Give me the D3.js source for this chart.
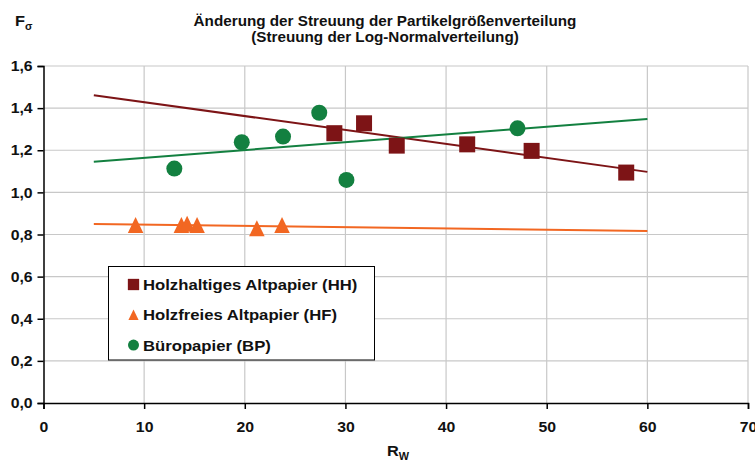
<!DOCTYPE html>
<html>
<head>
<meta charset="utf-8">
<script src="https://cdn.jsdelivr.net/npm/d3@7"></script>
<style>
  html, body { margin: 0; padding: 0; background: #fff; }
  svg { display: block; font-family: "Liberation Sans", Arial, sans-serif; }
</style>
</head>
<body>
<svg id="chart" width="755" height="462"></svg>
<script>
// Holzhaltiges Altpapier (HH)
const hhX = [28.9, 31.85, 35.1, 42.1, 48.5, 57.9];
const hhY = [1.281, 1.328, 1.222, 1.228, 1.197, 1.094];
// Holzfreies Altpapier (HF)
const hfX = [9.15, 13.7, 14.27, 15.26, 21.2, 23.7];
const hfY = [0.845, 0.845, 0.851, 0.845, 0.830, 0.845];
// Büropapier (BP)
const bpX = [13.0, 19.7, 23.8, 27.4, 30.1, 47.1];
const bpY = [1.113, 1.238, 1.265, 1.378, 1.059, 1.304];

const seriesNames = ["Holzhaltiges Altpapier (HH)", "Holzfreies Altpapier (HF)", "Büropapier (BP)"];
const seriesColors = ["#7d1416", "#f26722", "#138040"];
const trendRange = [5, 60];

const xTicks = [0, 10, 20, 30, 40, 50, 60, 70];
const yTicks = [0, 0.2, 0.4, 0.6, 0.8, 1.0, 1.2, 1.4, 1.6];

const titleLines = ["Änderung der Streuung der Partikelgrößenverteilung", "(Streuung der Log-Normalverteilung)"];

const svg = d3.select("#chart");
const plotL = 43.5, plotR = 748, plotT = 66, plotB = 403;
const stretch = 1.09; // text is set slightly wide

const x = d3.scaleLinear().domain([0, 70]).range([plotL, plotR]);
const y = d3.scaleLinear().domain([0, 1.6]).range([plotB, plotT]);

// grid
const grid = svg.append("g");
grid.selectAll("line.h").data(yTicks.slice(1)).join("line")
  .attr("x1", plotL).attr("x2", plotR)
  .attr("y1", d => y(d)).attr("y2", d => y(d))
  .attr("stroke", "#c8c8c8").attr("stroke-width", 1.2);
grid.selectAll("line.v").data(xTicks.slice(1)).join("line")
  .attr("y1", plotT).attr("y2", plotB)
  .attr("x1", d => x(d)).attr("x2", d => x(d))
  .attr("stroke", "#c8c8c8").attr("stroke-width", 1.2);

// axes
const fmt = d => d3.format(".1f")(d).replace(".", ",");
const yAxis = svg.append("g").attr("transform", `translate(${plotL},0)`)
  .call(d3.axisLeft(y).tickValues(yTicks).tickFormat(fmt).tickSize(6).tickPadding(4));
const xAxis = svg.append("g").attr("transform", `translate(0,${plotB})`)
  .call(d3.axisBottom(x).tickValues(xTicks).tickFormat(d3.format("d")).tickSize(6).tickPadding(13));
[xAxis, yAxis].forEach(a => {
  a.select(".domain").attr("stroke", "#000").attr("stroke-width", 1.5);
  a.selectAll(".tick line").attr("stroke", "#000").attr("stroke-width", 1.5);
  a.selectAll(".tick text").attr("fill", "#111").attr("font-size", 14.5).attr("font-weight", "bold")
    .attr("font-family", "'Liberation Sans', Arial, sans-serif")
    .attr("transform", `scale(${stretch},1)`);
});

// trend lines (least squares over each series)
function fit(xs, ys) {
  const mx = d3.mean(xs), my = d3.mean(ys);
  const sxy = d3.sum(xs, (v, i) => (v - mx) * (ys[i] - my));
  const sxx = d3.sum(xs, v => (v - mx) * (v - mx));
  const b = sxy / sxx;
  return v => my + b * (v - mx);
}

// upright triangle whose bounding box is centred on the point
const boxTriangle = {
  draw(ctx, size) {
    const s = Math.sqrt(size);
    const w = s * 0.97, h = s;
    ctx.moveTo(0, -h / 2);
    ctx.lineTo(w / 2, h / 2);
    ctx.lineTo(-w / 2, h / 2);
    ctx.closePath();
  }
};

const series = [
  { xs: hhX, ys: hhY, shape: d3.symbolSquare, size: 256, legendSize: 128 },
  { xs: hfX, ys: hfY, shape: boxTriangle, size: 256, legendSize: 110 },
  { xs: bpX, ys: bpY, shape: d3.symbolCircle, size: 201, legendSize: 95 }
];
const line = d3.line().x(d => x(d[0])).y(d => y(d[1]));
series.forEach((s, i) => {
  const f = fit(s.xs, s.ys);
  svg.append("path")
    .attr("d", line(trendRange.map(v => [v, f(v)])))
    .attr("stroke", seriesColors[i]).attr("stroke-width", 2).attr("fill", "none");
});

// markers
series.forEach((s, i) => {
  svg.append("g").selectAll("path").data(s.xs.map((v, k) => [v, s.ys[k]])).join("path")
    .attr("d", d3.symbol().type(s.shape).size(s.size))
    .attr("transform", d => `translate(${x(d[0])},${y(d[1])})`)
    .attr("fill", seriesColors[i]);
});

// legend
const lg = svg.append("g");
lg.append("rect").attr("x", 108.5).attr("y", 266.5).attr("width", 266).attr("height", 93.5)
  .attr("fill", "#fff").attr("stroke", "#000").attr("stroke-width", 1);
seriesNames.forEach((name, i) => {
  const cy = 284.5 + i * 30.3;
  lg.append("path").attr("d", d3.symbol().type(series[i].shape).size(series[i].legendSize))
    .attr("transform", `translate(133.5,${cy})`).attr("fill", seriesColors[i]);
  lg.append("text").attr("transform", `translate(143,${cy}) scale(${stretch},1)`).attr("dy", "0.36em")
    .attr("font-size", 15.3).attr("font-weight", "bold").attr("fill", "#111").text(name);
});

// title
svg.append("g").selectAll("text").data(titleLines).join("text")
  .attr("transform", (d, i) => `translate(385,${25.5 + i * 16.5}) scale(${stretch},1)`)
  .attr("text-anchor", "middle").attr("font-size", 14).attr("font-weight", "bold").attr("fill", "#111")
  .text(d => d);

// axis titles
const fy = svg.append("text").attr("transform", `translate(15,26) scale(${stretch},1)`)
  .attr("font-size", 15).attr("font-weight", "bold").attr("fill", "#111");
fy.append("tspan").text("F");
fy.append("tspan").attr("dy", 4).attr("font-size", 10).text("σ");
const rx = svg.append("text").attr("transform", `translate(387,456) scale(${stretch},1)`)
  .attr("font-size", 15).attr("font-weight", "bold").attr("fill", "#111");
rx.append("tspan").text("R");
rx.append("tspan").attr("dy", 4).attr("font-size", 10).text("W");
</script>
</body>
</html>
